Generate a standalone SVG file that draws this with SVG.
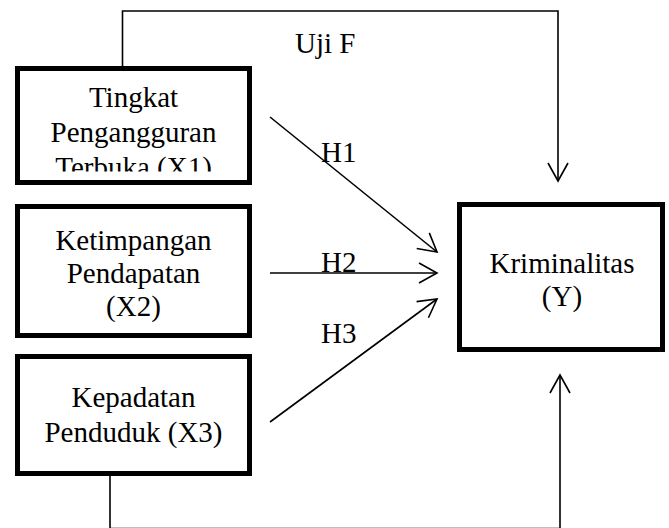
<svg xmlns="http://www.w3.org/2000/svg" width="669" height="528" viewBox="0 0 669 528">
  <style>
    .box { fill: #fff; stroke: #000; stroke-width: 5; }
    .lbl { font-family: "Liberation Serif", "Times New Roman", serif; font-size: 29px; fill: #000; }
    .mid { text-anchor: middle; }
    .conn { fill: none; stroke: #000; stroke-width: 1.6; }
  </style>
  <defs>
    <marker id="arr" markerUnits="userSpaceOnUse" orient="auto" refX="0" refY="0" markerWidth="20" markerHeight="22" overflow="visible">
      <path d="M-18,-10 L0,0 L-18,10" fill="none" stroke="#000" stroke-width="1.6"/>
    </marker>
    <clipPath id="clipX1">
      <rect x="17" y="66" width="235" height="105.5"/>
    </clipPath>
  </defs>
  <rect width="669" height="528" fill="#fff"/>

  <g id="connectors">
    <polyline class="conn" points="122.5,66 122.5,11 558,11 558,181" marker-end="url(#arr)"/>
    <polyline class="conn" points="110,476 110,528.5 560,528.5 560,375" marker-end="url(#arr)"/>
    <line class="conn" x1="270" y1="117" x2="437" y2="252" marker-end="url(#arr)"/>
    <line class="conn" x1="270" y1="273" x2="437" y2="273" marker-end="url(#arr)"/>
    <line class="conn" x1="270" y1="422" x2="437" y2="299" marker-end="url(#arr)"/>
  </g>

  <g id="X1">
    <rect class="box" x="17.5" y="68.5" width="232" height="114"/>
    <g clip-path="url(#clipX1)">
      <text class="lbl mid" x="133.5" y="107">Tingkat</text>
      <text class="lbl mid" x="133.5" y="142">Pengangguran</text>
      <text class="lbl mid" x="133.5" y="177">Terbuka (X1)</text>
    </g>
  </g>

  <g id="X2">
    <rect class="box" x="17.5" y="206.5" width="232" height="129"/>
    <text class="lbl mid" x="133.5" y="249.5">Ketimpangan</text>
    <text class="lbl mid" x="133.5" y="283">Pendapatan</text>
    <text class="lbl mid" x="133.5" y="316">(X2)</text>
  </g>

  <g id="X3">
    <rect class="box" x="17.5" y="356.5" width="232" height="117"/>
    <text class="lbl mid" x="133.5" y="407">Kepadatan</text>
    <text class="lbl mid" x="133.5" y="442">Penduduk (X3)</text>
  </g>

  <g id="Y">
    <rect class="box" x="459.5" y="204.5" width="203" height="145"/>
    <text class="lbl mid" x="562" y="273">Kriminalitas</text>
    <text class="lbl mid" x="562" y="306">(Y)</text>
  </g>

  <g id="labels">
    <text class="lbl" x="295" y="53">Uji F</text>
    <text class="lbl" x="321" y="162">H1</text>
    <text class="lbl" x="321" y="272">H2</text>
    <text class="lbl" x="321" y="343">H3</text>
  </g>
</svg>
